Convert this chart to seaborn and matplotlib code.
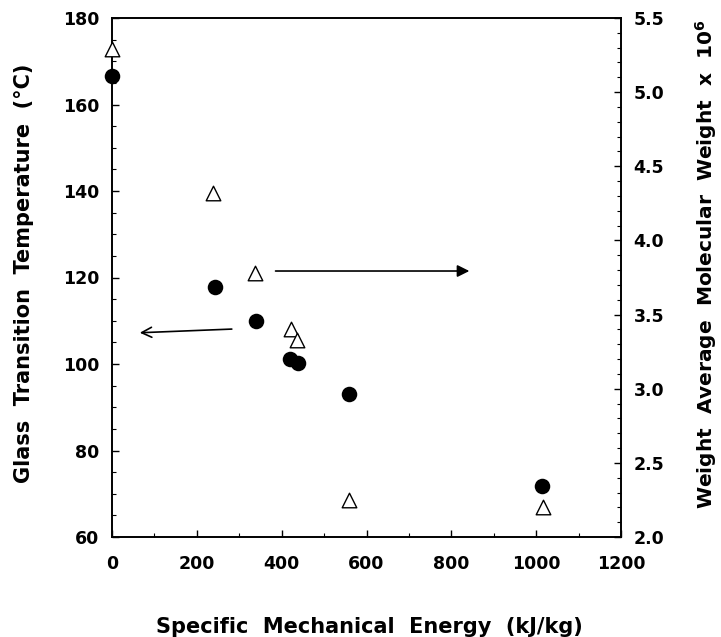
import matplotlib
matplotlib.use("Agg")
import matplotlib.pyplot as plt
import seaborn as sns
import pandas as pd
from matplotlib.ticker import MultipleLocator, FormatStrFormatter

sns.set_theme(style="ticks")
plt.rcParams['font.family'] = ['DejaVu Sans']
plt.rcParams['font.weight'] = 'bold'
plt.rcParams['mathtext.default'] = 'bf'
plt.rcParams['text.color'] = 'black'
plt.rcParams['axes.labelcolor'] = 'black'
plt.rcParams['xtick.color'] = 'black'
plt.rcParams['ytick.color'] = 'black'
plt.rcParams['xtick.labelcolor'] = 'black'
plt.rcParams['ytick.labelcolor'] = 'black'

# Data
sme_tg = [0, 242, 339, 419, 438, 558, 1014]
tg = [166.5, 117.8, 110.0, 101.2, 100.2, 93.1, 71.8]
sme_mw = [0, 238, 336, 421, 435, 558, 1016]
mw = [5.29, 4.32, 3.78, 3.40, 3.33, 2.25, 2.20]

# annotation arrows (data coords): (tail) -> (head)
arrow_right = [(379, 121.5), (849, 121.5)]   # points to right axis
arrow_left = [(289, 108.1), (59, 107.2)]     # points to left axis

df_tg = pd.DataFrame({"SME": sme_tg, "Tg": tg})
df_mw = pd.DataFrame({"SME": sme_mw, "Mw": mw})

W, H = 721, 637
L, R, T, B = 112, 621, 18, 537
fig = plt.figure(figsize=(W/100, H/100), dpi=100)
ax = fig.add_axes([L/W, 1-B/H, (R-L)/W, (B-T)/H])
ax2 = ax.twinx()

sns.scatterplot(data=df_tg, x="SME", y="Tg", ax=ax, marker="o", s=125,
                color="black", edgecolor="black", linewidth=0, zorder=3, clip_on=False)
sns.scatterplot(data=df_mw, x="SME", y="Mw", ax=ax2, marker="^", s=110,
                facecolor="white", edgecolor="black", linewidth=1.0, zorder=3, clip_on=False)

ax.set_xlim(0, 1200)
ax.set_ylim(60, 180)
ax2.set_ylim(2.0, 5.5)

ax.xaxis.set_major_locator(MultipleLocator(200))
ax.xaxis.set_minor_locator(MultipleLocator(100))
ax.yaxis.set_major_locator(MultipleLocator(20))
ax.yaxis.set_minor_locator(MultipleLocator(5))
ax2.yaxis.set_major_locator(MultipleLocator(0.5))
ax2.yaxis.set_minor_locator(MultipleLocator(0.1))
ax2.yaxis.set_major_formatter(FormatStrFormatter('%.1f'))

for a in (ax, ax2):
    a.tick_params(which='major', direction='in', length=5, width=1, labelsize=12.5, pad=9,
                  color='black', labelcolor='black')
    a.tick_params(which='minor', direction='in', length=3, width=0.8, color='black')
    for sp in a.spines.values():
        sp.set_linewidth(1.2)
        sp.set_color('black')
ax.tick_params(axis='x', pad=13)
for lab in ax.get_xticklabels() + ax.get_yticklabels() + ax2.get_yticklabels():
    lab.set_fontweight('bold')

ax.set_xlabel("Specific  Mechanical  Energy  (kJ/kg)", fontsize=15, fontweight='bold', color='black')
ax.xaxis.set_label_coords((369.5-L)/(R-L), (B-617)/(B-T))
ax.set_ylabel("Glass  Transition  Temperature  (°C)", fontsize=15, fontweight='bold', color='black')
ax.yaxis.label.set_verticalalignment('center')
ax.yaxis.label.set_horizontalalignment('center')
ax.yaxis.set_label_coords((24-L)/(R-L), (B-273.5)/(B-T))
ax2.set_ylabel(r"Weight  Average  Molecular  Weight  x  10$^{6}$", fontsize=14.5,
               fontweight='bold', color='black')
ax2.yaxis.label.set_verticalalignment('center')
ax2.yaxis.label.set_horizontalalignment('center')
ax2.yaxis.set_label_coords((706-L)/(R-L), (B-264)/(B-T))

ax.annotate("", xy=arrow_right[1], xytext=arrow_right[0],
            arrowprops=dict(arrowstyle="-|>", color="black", lw=1.2, mutation_scale=18))
ax.annotate("", xy=arrow_left[1], xytext=arrow_left[0],
            arrowprops=dict(arrowstyle="->", color="black", lw=1.2, mutation_scale=18))

fig.savefig("out.png", dpi=100)
